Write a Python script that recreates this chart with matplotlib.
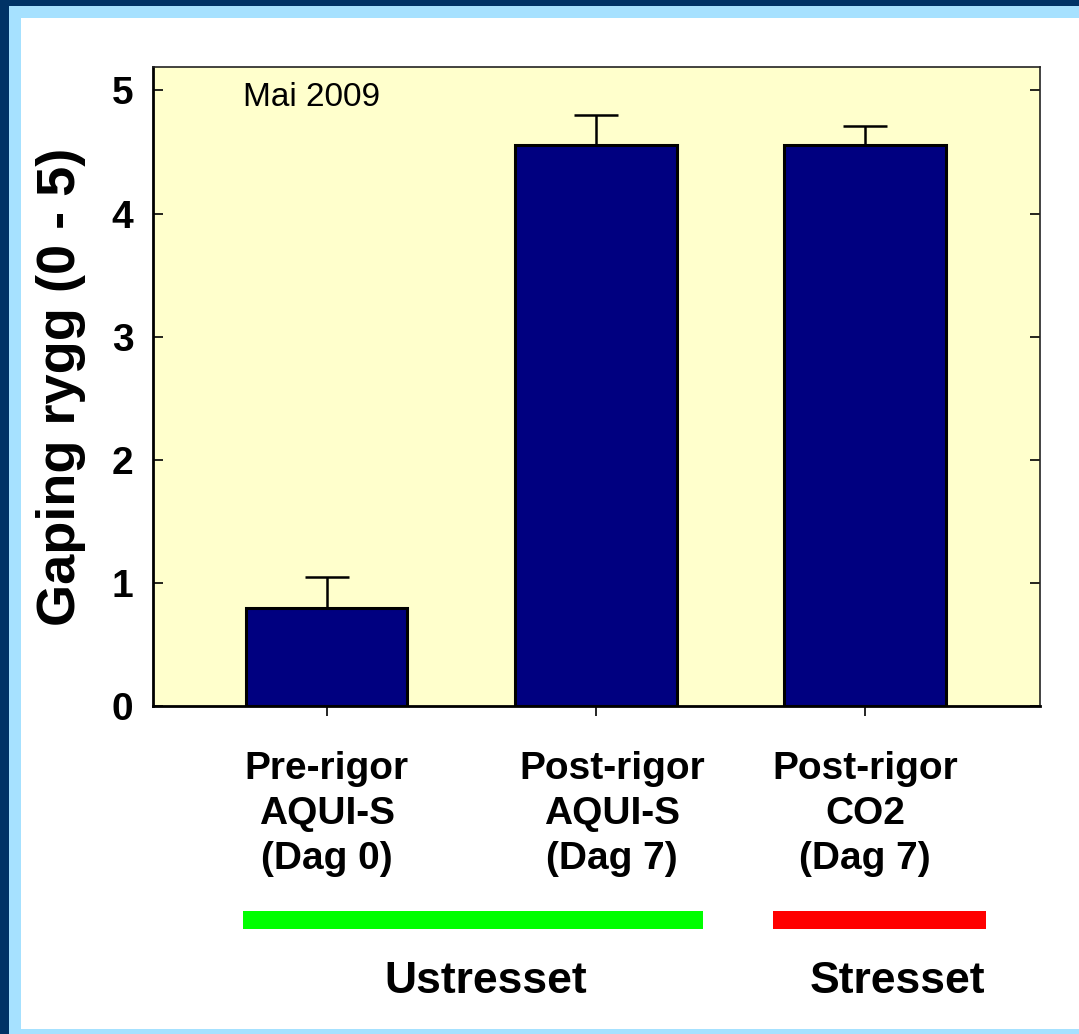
import matplotlib.pyplot as plt
import matplotlib.transforms as mtransforms
from matplotlib.patches import Rectangle

plt.rcParams['font.family'] = ['Liberation Sans', 'DejaVu Sans']

#values
categories = ['Pre-rigor\nAQUI-S\n(Dag 0)', 'Post-rigor\nAQUI-S\n(Dag 7)', 'Post-rigor\nCO2\n(Dag 7)']
gaping = [0.80, 4.56, 4.56]
gapingErr = [0.25, 0.24, 0.15]
yTicks = [0, 1, 2, 3, 4, 5]
groups = ['Ustresset', 'Stresset']
groupColors = ['#00ff00', '#ff0000']

W, H = 1079, 1034
fig = plt.figure(figsize=(W/100., H/100.), dpi=100)

#frame: dark blue, light blue, white
def figRect(x0, y0, x1, y1, color, z=-5):
    fig.patches.append(Rectangle((x0/W, 1-y1/H), (x1-x0)/W, (y1-y0)/H,
                                 transform=fig.transFigure, color=color, zorder=z, lw=0))
figRect(0, 0, W, H, '#003366')
figRect(9, 6, W, H, '#a6e1ff')
figRect(21, 18, W, 1029, 'white')

ax = fig.add_axes([153/W, 1-706/H, (1040-153)/W, (706-67)/H])
ax.set_zorder(2)
ax.set_facecolor('#ffffcc')
x = range(len(categories))
ax.bar(x, gaping, width=0.6, color='#000080', edgecolor='black', linewidth=2.2, zorder=2)
ax.errorbar(x, gaping, yerr=[[0]*len(gaping), gapingErr], fmt='none', ecolor='black',
            elinewidth=1.8, capsize=15.5, capthick=1.8, zorder=1)
ax.set_xlim(-0.645, 2.65)
ax.set_ylim(0, 5.19)
ax.set_yticks(yTicks)
ax.set_yticklabels([str(t) for t in yTicks], fontsize=28, fontweight='bold')
ax.tick_params(axis='y', direction='in', length=7, width=1.2, right=True, pad=14)
ax.set_xticks(list(x))
ax.set_xticklabels([])
ax.tick_params(axis='x', direction='out', length=7, width=1.2)
for side in ['left', 'bottom']:
    ax.spines[side].set_linewidth(2)
for side in ['top', 'right']:
    ax.spines[side].set_linewidth(1.2)
    ax.spines[side].set_color('#222222')
ax.set_ylabel('Gaping rygg (0 - 5)', fontsize=39, fontweight='bold')
ax.yaxis.set_label_coords(-0.076, 0.5)
ax.text(243/W, 1-97/H, 'Mai 2009', transform=fig.transFigure, fontsize=24,
        ha='left', va='center')

#category labels under the axis
trans = mtransforms.blended_transform_factory(ax.transData, fig.transFigure)
nudge = [0.0, 0.06, 0.0]
for i, lab in enumerate(categories):
    ax.text(i + nudge[i], 1-751/H, lab, transform=trans, ha='center', va='top',
            multialignment='center', fontsize=28, fontweight='bold', linespacing=1.33)

#group bars and names
barSpans = [(243, 703), (773, 986)]
nameCenters = [486, 897]
for g, c, (x0, x1), xc in zip(groups, groupColors, barSpans, nameCenters):
    figRect(x0, 911, x1, 929, c, z=1)
    fig.text(xc/W, 1-993/H, g, fontsize=32, fontweight='bold', ha='center', va='baseline')

fig.savefig('out.png', dpi=100)
